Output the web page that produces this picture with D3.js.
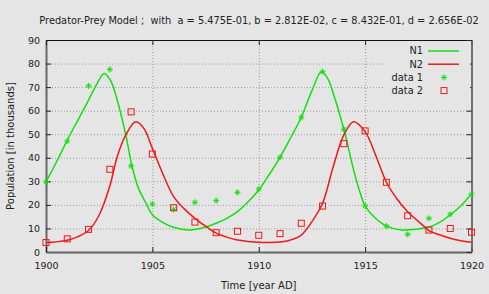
<!DOCTYPE html>
<html>
<head>
<meta charset="utf-8">
<script src="https://cdn.jsdelivr.net/npm/d3@7"></script>
<style>
  body { margin: 0; background: #e5e5e5; }
  text { font-family: "DejaVu Sans", sans-serif; fill: #222; }
  .grid line { stroke: #9a9a9a; stroke-dasharray: 1,2; }
  .grid .domain { display: none; }
</style>
</head>
<body>
<div id="plot"></div>
<script>
// Observations (yearly)
const dataYears = [1900, 1901, 1902, 1903, 1904, 1905, 1906, 1907, 1908, 1909, 1910,
  1911, 1912, 1913, 1914, 1915, 1916, 1917, 1918, 1919, 1920];
const data1 = [29.8, 47.1, 70.5, 77.5, 36.5, 20.4, 18.1, 21.1, 21.8, 25.3, 26.7,
  40.2, 57.2, 76.5, 52.1, 19.5, 11.0, 7.5, 14.3, 16.0, 24.6];
const data2 = [4.0, 5.6, 9.6, 35.1, 59.5, 41.6, 18.8, 12.7, 8.2, 8.8, 7.1,
  7.8, 12.2, 19.5, 46.0, 51.4, 29.6, 15.4, 9.3, 10.0, 8.4];

// Model curves
const n1Years = [1900, 1900.5, 1901, 1901.5, 1902, 1902.4, 1902.74, 1903.05, 1903.3, 1903.75,
  1904.04, 1904.35, 1904.7, 1905, 1905.5, 1906, 1906.6, 1907, 1907.5, 1908, 1908.5, 1909,
  1909.5, 1910, 1910.5, 1911, 1911.5, 1912, 1912.5, 1912.94, 1913.25, 1913.5, 1914, 1914.5,
  1914.8, 1915, 1915.5, 1916, 1916.7, 1917, 1917.5, 1918, 1918.5, 1919, 1919.5, 1920];
const n1Values = [29.8, 38.3, 47.5, 56.0, 64.5, 71.5, 75.8, 72.5, 66, 49.7,
  36.5, 27, 20.7, 15.8, 12.5, 10.5, 9.4, 9.6, 10.6, 12.2, 14.3, 17.1,
  21.3, 26.3, 33, 40.2, 48.5, 57.2, 68.5, 76.5, 73.5, 67.4, 52.1, 33.4,
  24.2, 19.5, 14.2, 11.0, 9.3, 9.4, 9.8, 10.6, 12.6, 15.7, 19.6, 24.6];
const n2Years = [1900, 1900.5, 1901, 1901.5, 1902, 1902.5, 1903, 1903.35, 1903.75, 1904.22,
  1904.6, 1905, 1905.5, 1906, 1906.5, 1907, 1907.6, 1908, 1908.5, 1909, 1909.5, 1910,
  1910.5, 1911, 1911.5, 1912, 1912.5, 1913, 1913.5, 1914, 1914.46, 1915, 1915.5, 1916,
  1916.5, 1917, 1917.5, 1917.85, 1918, 1918.5, 1919, 1919.5, 1920];
const n2Values = [4.0, 4.3, 5.0, 6.5, 9.1, 15.7, 28, 40.5, 49.7, 55.3,
  52.5, 44, 33, 23.5, 18.3, 14.3, 10.3, 8.0, 6.3, 5.1, 4.5, 4.1,
  4.0, 4.2, 5.1, 7.2, 12.9, 20.7, 36.2, 49.7, 55.3, 51.1, 41, 29.6,
  22.5, 17.1, 13.0, 10.3, 9.1, 7.3, 5.8, 4.8, 4.1];

const yTicks = [0, 10, 20, 30, 40, 50, 60, 70, 80, 90];
const xTicks = [1900, 1905, 1910, 1915, 1920];
const legendLabels = ["N1", "N2", "data 1", "data 2"];

const titleText = "Predator-Prey Model ;  with  a = 5.475E-01, b = 2.812E-02, c = 8.432E-01, d = 2.656E-02";

const green = "#10e010", red = "#f01818";

const W = 489, H = 294;
const margin = { top: 40, right: 17.5, bottom: 42, left: 46 };
const width = W - margin.left - margin.right;
const height = H - margin.top - margin.bottom;

const root = d3.select("#plot").append("svg")
  .attr("width", W).attr("height", H)
  .style("background", "#e5e5e5");

const svg = root.append("g")
  .attr("transform", `translate(${margin.left},${margin.top})`);

const x = d3.scaleLinear().domain([1900, 1920]).range([0, width]);
const y = d3.scaleLinear().domain([0, 90]).range([height, 0]);

// grid
svg.append("g").attr("class", "grid")
  .call(d3.axisLeft(y).tickValues(yTicks.slice(1, -1)).tickSize(-width).tickFormat(""));
svg.append("g").attr("class", "grid")
  .call(d3.axisBottom(x).tickValues(xTicks.slice(1, -1)).tickSize(height).tickFormat(""));

// axes with inward ticks
const styleAxis = (g, col, w) => {
  g.select(".domain").attr("stroke", col).attr("stroke-width", w);
  g.selectAll(".tick line").attr("stroke", "#222");
  g.selectAll("text").style("font-size", "9.5px").attr("fill", "#222");
};
svg.append("g")
  .call(d3.axisLeft(y).tickValues(yTicks).tickSizeInner(-5).tickSizeOuter(0).tickPadding(6))
  .call(g => styleAxis(g, "#666", 2));
svg.append("g")
  .attr("transform", `translate(0,${height})`)
  .call(d3.axisBottom(x).tickValues(xTicks).tickFormat(d3.format("d"))
    .tickSizeInner(-5).tickSizeOuter(0).tickPadding(10))
  .call(g => styleAxis(g, "#666", 2));
svg.append("g")
  .call(d3.axisTop(x).tickValues(xTicks).tickSizeInner(-5).tickSizeOuter(0).tickFormat(""))
  .call(g => styleAxis(g, "#111", 1.2));
svg.append("g")
  .attr("transform", `translate(${width},0)`)
  .call(d3.axisRight(y).tickValues(yTicks).tickSizeInner(-5).tickSizeOuter(0).tickFormat(""))
  .call(g => styleAxis(g, "#555", 1.6));

// legend background hides grid
const lgX = 338, lgY = 1;
svg.append("rect").attr("x", lgX).attr("y", lgY).attr("width", width - lgX - 1.5).attr("height", 58)
  .attr("fill", "#e5e5e5");

// model curves
const line = d3.line().x(d => x(d[0])).y(d => y(d[1])).curve(d3.curveCatmullRom.alpha(0.5));
svg.append("path").datum(n1Years.map((t, i) => [t, n1Values[i]]))
  .attr("d", line).attr("fill", "none").attr("stroke", green).attr("stroke-width", 1.5);
svg.append("path").datum(n2Years.map((t, i) => [t, n2Values[i]]))
  .attr("d", line).attr("fill", "none").attr("stroke", red).attr("stroke-width", 1.5);

// markers
const star = r => `M${-r},0H${r}M0,${-r}V${r}M${-r * 0.7},${-r * 0.7}L${r * 0.7},${r * 0.7}M${-r * 0.7},${r * 0.7}L${r * 0.7},${-r * 0.7}`;
svg.selectAll(".d1").data(dataYears.map((t, i) => [t, data1[i]])).enter()
  .append("path").attr("class", "d1")
  .attr("transform", d => `translate(${x(d[0])},${y(d[1])})`)
  .attr("d", star(3)).attr("stroke", green).attr("stroke-width", 1).attr("fill", "none");
svg.selectAll(".d2").data(dataYears.map((t, i) => [t, data2[i]])).enter()
  .append("rect").attr("class", "d2")
  .attr("x", d => x(d[0]) - 3).attr("y", d => y(d[1]) - 3)
  .attr("width", 6).attr("height", 6)
  .attr("fill", "none").attr("stroke", red).attr("stroke-width", 1);

// legend
const legend = svg.selectAll(".legend").data(legendLabels).enter()
  .append("g").attr("class", "legend")
  .attr("transform", (d, i) => `translate(377,${11 + i * 13.2})`);
legend.append("text").attr("text-anchor", "end").attr("dy", "0.35em")
  .style("font-size", "9.8px").text(d => d);
legend.filter((d, i) => i < 2).append("line")
  .attr("x1", 5).attr("x2", 36)
  .attr("stroke", (d, i) => i === 0 ? green : red).attr("stroke-width", 1.5);
legend.filter((d, i) => i === 2).append("path")
  .attr("transform", "translate(21,0)").attr("d", star(3))
  .attr("stroke", green).attr("fill", "none");
legend.filter((d, i) => i === 3).append("rect")
  .attr("x", 18).attr("y", -3).attr("width", 6).attr("height", 6)
  .attr("fill", "none").attr("stroke", red);

// labels
const title = root.append("text").attr("x", 259).attr("y", 21).attr("text-anchor", "middle")
  .attr("dy", "0.35em").style("font-size", "10px").style("white-space", "pre")
  .text(titleText);
// shrink title to the width it has in the reference
const tLen = title.node().getComputedTextLength();
title.style("font-size", `${Math.min(10, 10 * 440 / tLen)}px`);

root.append("text").attr("x", margin.left + width / 2).attr("y", 285).attr("text-anchor", "middle")
  .attr("dy", "0.35em").style("font-size", "10px").text("Time [year AD]");
root.append("text").attr("transform", `translate(10,${margin.top + height / 2}) rotate(-90)`)
  .attr("text-anchor", "middle").attr("dy", "0.35em").style("font-size", "10px")
  .text("Population [in thousands]");
</script>
</body>
</html>
